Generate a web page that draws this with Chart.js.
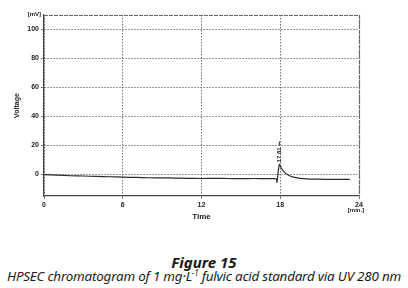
<!DOCTYPE html>
<html><head><meta charset="utf-8">
<script src="https://cdn.jsdelivr.net/npm/chart.js@4/dist/chart.umd.min.js"></script>
<style>
html,body{margin:0;padding:0;background:#fff;width:408px;height:288px;overflow:hidden}
#wrap{position:absolute;left:0;top:0;width:408px;height:222px}
.cap{position:absolute;left:0;width:408px;text-align:center;font-family:"Noto Sans",sans-serif;font-style:italic;color:#1a1a1a;white-space:nowrap;line-height:1}
#fig{top:255px;font-size:15px;font-weight:bold}
#txt{top:270px;font-size:13.4px;letter-spacing:-0.2px}
sup{font-size:8px;vertical-align:5px;line-height:0}
</style></head><body>
<div id="wrap"><canvas id="c" width="408" height="222"></canvas></div>
<div id="fig" class="cap">Figure 15</div>
<div id="txt" class="cap">HPSEC chromatogram of 1 mg·L<sup>−1</sup> fulvic acid standard via UV 280 nm</div>
<script>
const times = [0,1,2,3,4,5,6,7,8,9,10,11,12,13,14,15,16,17,17.5,17.7,17.75,17.93,18.1,18.3,18.6,19,19.5,20,21,22,23.3];
const voltage = [-0.3,-0.6,-1.0,-1.2,-1.5,-1.7,-2.0,-2.2,-2.4,-2.5,-2.6,-2.8,-2.9,-2.8,-2.9,-3.0,-2.9,-3.0,-3.0,-3.2,-5.5,6.8,4.0,1.5,-0.5,-2.0,-2.8,-3.2,-3.4,-3.5,-3.5];
const xTicks = [0,6,12,18,24];
const yTicks = [0,20,40,60,80,100];
const peakTime = 17.93, peakValue = 6.8, peakLabel = "17.81";

const tickFont = {family:"Liberation Sans", size:7, weight:"bold"};
const extras = {
  id:'extras',
  afterDraw(chart){
    const {ctx, chartArea:a, scales:{x,y}} = chart;
    ctx.save();
    ctx.strokeStyle='#666'; ctx.lineWidth=1.2; ctx.setLineDash([4,1]);
    ctx.beginPath();
    ctx.moveTo(a.left, a.top+0.5); ctx.lineTo(a.right+0.5, a.top+0.5); ctx.lineTo(a.right+0.5, a.bottom);
    ctx.stroke();
    ctx.setLineDash([]);
    ctx.fillStyle='#222';
    ctx.font='bold 6px "Liberation Sans"';
    ctx.textAlign='right'; ctx.textBaseline='middle';
    ctx.fillText('[mV]', a.left-3, a.top-1);
    ctx.textAlign='center'; ctx.textBaseline='top';
    ctx.fillText('[min.]', x.getPixelForValue(24)-3, a.bottom+11);
    const px = x.getPixelForValue(peakTime), py = y.getPixelForValue(peakValue);
    ctx.save();
    ctx.translate(px, py-2);
    ctx.rotate(-Math.PI/2);
    ctx.textAlign='left'; ctx.textBaseline='middle';
    ctx.font='bold 6px "Liberation Sans"';
    ctx.fillText(peakLabel, 0, 0);
    const w = ctx.measureText(peakLabel).width;
    ctx.strokeStyle='#222'; ctx.lineWidth=1; ctx.beginPath(); ctx.moveTo(w+2,0); ctx.lineTo(w+6,0); ctx.stroke();
    ctx.restore();
    ctx.restore();
  }
};

new Chart(document.getElementById('c'), {
  type:'line',
  data:{datasets:[{data:times.map((t,i)=>({x:t,y:voltage[i]})), borderColor:'#2a2a2a', borderWidth:1.2, pointRadius:0, tension:0.2, fill:false}]},
  options:{
    responsive:false, animation:false, events:[],
    layout:{padding:{left:0,top:15,right:49,bottom:0}},
    plugins:{legend:{display:false}, tooltip:{enabled:false}},
    scales:{
      x:{type:'linear', min:0, max:24,
        afterBuildTicks:s=>{s.ticks=xTicks.map(v=>({value:v}));},
        afterFit:s=>{s.height=26;},
        ticks:{font:tickFont, color:'#222', padding:2, maxRotation:0, autoSkip:false},
        grid:{color:'#777', lineWidth:1, drawTicks:true, tickLength:3, tickColor:'#777'},
        border:{display:true, color:'#444', width:1.3, dash:[1.5,1.5]},
        title:{display:true, text:'Time', font:{family:"Liberation Sans", size:8, weight:'bold'}, color:'#222', padding:{top:0,bottom:0}}
      },
      y:{type:'linear', min:-15, max:110,
        afterBuildTicks:s=>{s.ticks=yTicks.map(v=>({value:v}));},
        afterFit:s=>{s.width=44;},
        ticks:{font:tickFont, color:'#222', padding:2, autoSkip:false},
        grid:{color:'#777', lineWidth:1, tickLength:3, tickColor:'#777'},
        border:{display:true, color:'#444', width:1.3, dash:[1.5,1.5]},
        title:{display:true, text:'Voltage', font:{family:"Liberation Sans", size:7, weight:'bold'}, color:'#222', padding:{top:13,bottom:0}}
      }
    }
  },
  plugins:[extras]
});
</script>
</body></html>
